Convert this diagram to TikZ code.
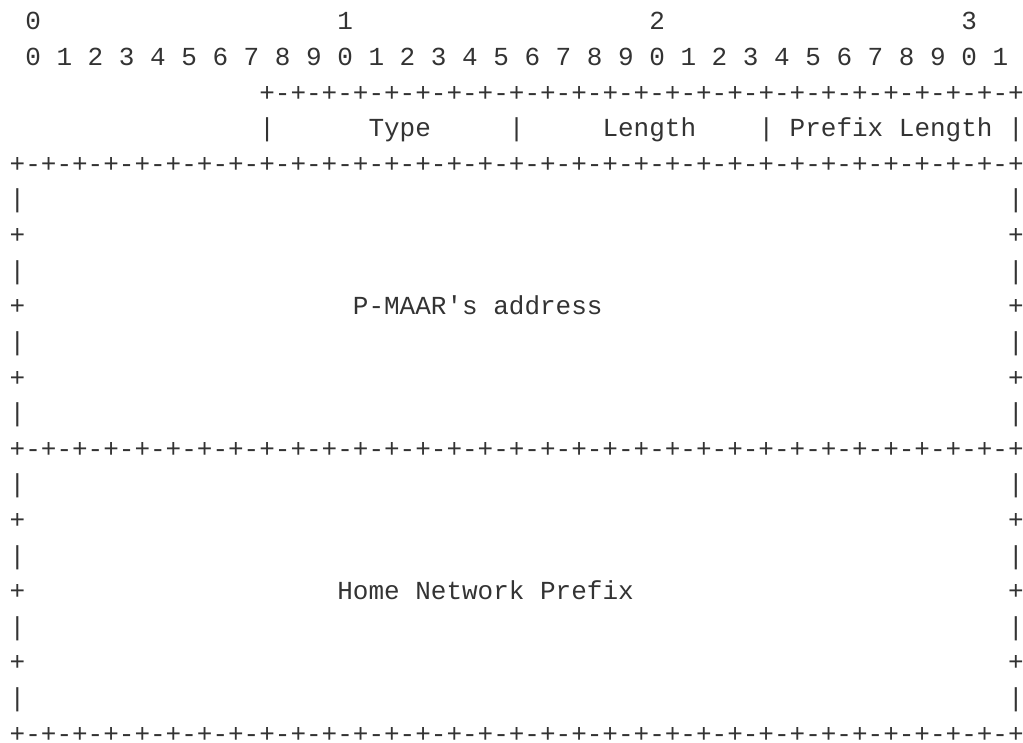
\documentclass[tikz,border=0pt]{standalone}
\usepackage{fontspec}
\setmonofont{Liberation Mono}
\definecolor{ink}{HTML}{333333}

\begin{document}
\begin{tikzpicture}[x=15.6pt, y=-35.6pt,
  cell/.style={anchor=base west, inner sep=0pt, outer sep=0pt, text=ink,
    font=\ttfamily\fontsize{26}{30}\selectfont}]
\useasboundingbox (-9.7pt,30pt) rectangle (1013.3pt,-713pt);

%Bit numbers
\foreach \t in {0,...,3}
  \node[cell] (tens\t) at ({20*\t+1},0) {\t};
\foreach \b in {0,...,31}{
  \pgfmathtruncatemacro{\d}{mod(\b,10)}
  \node[cell] (bit\b) at ({2*\b+1},1) {\d};
}

%Header
\node[cell] (hdrtop) at (16,2) {+-+-+-+-+-+-+-+-+-+-+-+-+-+-+-+-+-+-+-+-+-+-+-+-+};
\node[cell] (typebar) at (16,3) {|};
\node[cell] (type) at (23,3) {Type};
\node[cell] (lenbar) at (32,3) {|};
\node[cell] (len) at (38,3) {Length};
\node[cell] (plenbar) at (48,3) {|};
\node[cell] (plen) at (50,3) {Prefix Length};
\node[cell] (endbar) at (64,3) {|};

%Separators
\foreach \r in {4,12,20}
  \node[cell] (sep\r) at (0,\r) {+-+-+-+-+-+-+-+-+-+-+-+-+-+-+-+-+-+-+-+-+-+-+-+-+-+-+-+-+-+-+-+-+};

%Side walls
\foreach \r in {5,...,11}{
  \pgfmathtruncatemacro{\s}{\r+8}
  \ifodd\r\relax\def\wall{|}\else\def\wall{+}\fi
  \node[cell] (pl\r) at (0,\r) {\wall};
  \node[cell] (pr\r) at (64,\r) {\wall};
  \node[cell] (hl\s) at (0,\s) {\wall};
  \node[cell] (hr\s) at (64,\s) {\wall};
}

%Fields
\node[cell] (paddr) at (22,8) {P-MAAR's address};
\node[cell] (hnp) at (21,16) {Home Network Prefix};
\end{tikzpicture}
\end{document}
